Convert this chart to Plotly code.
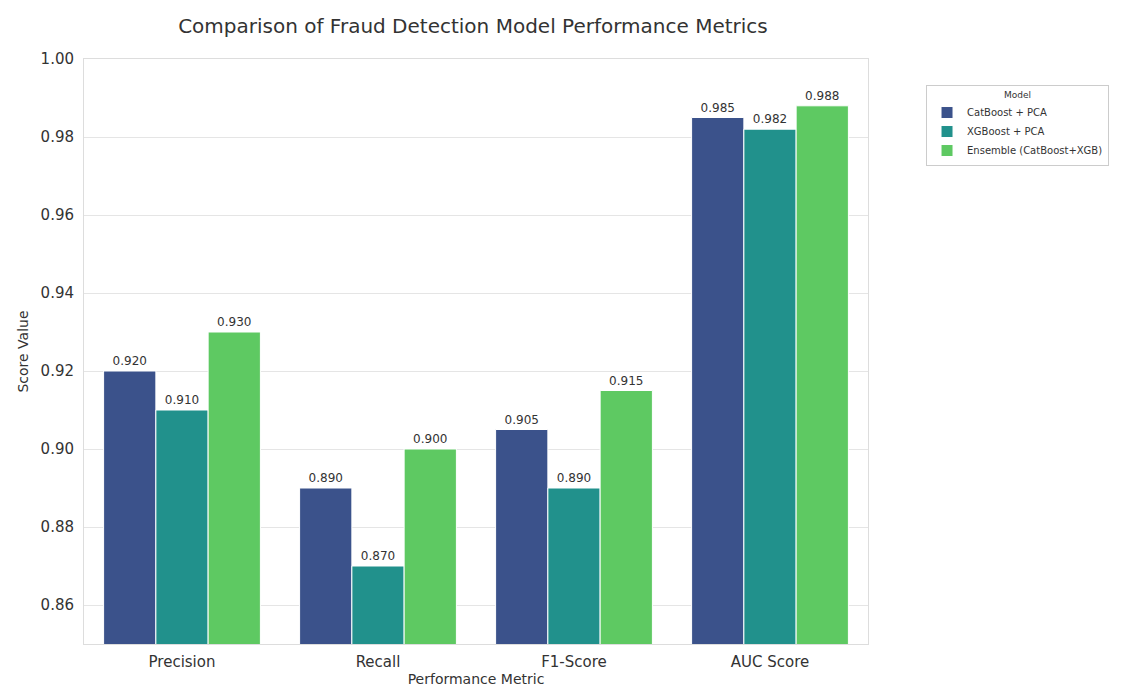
import plotly.graph_objects as go

metrics = ["Precision", "Recall", "F1-Score", "AUC Score"]
models = ["CatBoost + PCA", "XGBoost + PCA", "Ensemble (CatBoost+XGB)"]
catboost = [0.920, 0.890, 0.905, 0.985]
xgboost = [0.910, 0.870, 0.890, 0.982]
ensemble = [0.930, 0.900, 0.915, 0.988]
colors = ["#3b528b", "#21918c", "#5ec962"]

fig = go.Figure()
for name, vals, c in zip(models, [catboost, xgboost, ensemble], colors):
    fig.add_trace(go.Bar(
        x=metrics, y=vals, name=name,
        marker=dict(color=c, line=dict(color="white", width=1)),
        text=[f"{v:.3f}" for v in vals], textposition="outside",
        textfont=dict(size=12, color="#333333", family="DejaVu Sans"),
        cliponaxis=False,
    ))

fig.update_layout(
    width=1134, height=693,
    barmode="group", bargap=0.2, bargroupgap=0,
    plot_bgcolor="white", paper_bgcolor="white",
    font=dict(family="DejaVu Sans", color="#333333", size=12),
    title=dict(text="Comparison of Fraud Detection Model Performance Metrics",
               x=0.41, xanchor="center", y=0.974, yanchor="middle",
               font=dict(size=20, color="#333333")),
    margin=dict(l=76, r=274, t=51, b=57),
    xaxis=dict(title=dict(text="Performance Metric", standoff=4, font=dict(size=14, color="#333333")),
               showline=True, linecolor="#dddddd", mirror=True, ticks="",
               ticklabelstandoff=4, tickfont=dict(size=15)),
    yaxis=dict(title=dict(text="Score Value", standoff=8, font=dict(size=14, color="#333333")),
               range=[0.85, 1.0], dtick=0.02, tickformat=".2f",
               showgrid=True, gridcolor="#e5e5e5", zeroline=False,
               showline=True, linecolor="#dddddd", mirror=True, ticks="",
               ticklabelstandoff=6, tickfont=dict(size=15)),
    legend=dict(x=1.074, y=0.955, xanchor="left", yanchor="top",
                bordercolor="#cccccc", borderwidth=1,
                title=dict(text="Model", side="top center", font=dict(size=9)),
                font=dict(size=10), tracegroupgap=0, itemwidth=30),
)

fig.write_html("out.html")
